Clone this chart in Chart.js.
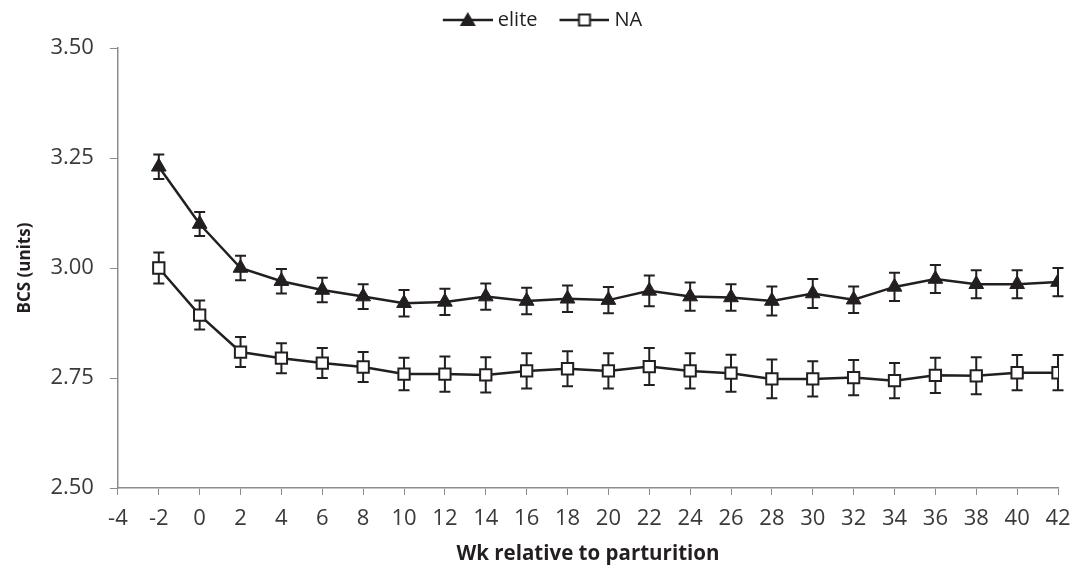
<!DOCTYPE html>
<html>
<head>
  <title>BCS by week</title>
  <script src="https://cdn.jsdelivr.net/npm/chart.js"></script>
  <style>
    body { margin: 0; background: #fff; }
    .chart-container { width: 1073px; height: 570px; }
  </style>
</head>
<body>
  <div class="chart-container">
    <canvas id="bcsChart"></canvas>
  </div>
  <script>
    // data
    const weeks = [-2, 0, 2, 4, 6, 8, 10, 12, 14, 16, 18, 20, 22, 24, 26, 28, 30, 32, 34, 36, 38, 40, 42];
    const eliteMean = [3.23, 3.10, 3.00, 2.97, 2.95, 2.935, 2.92, 2.923, 2.935, 2.925, 2.93, 2.927, 2.948, 2.935, 2.933, 2.925, 2.942, 2.928, 2.957, 2.975, 2.963, 2.963, 2.968];
    const eliteSE = [0.028, 0.027, 0.028, 0.028, 0.028, 0.028, 0.03, 0.03, 0.03, 0.03, 0.03, 0.03, 0.035, 0.032, 0.03, 0.033, 0.033, 0.03, 0.032, 0.032, 0.032, 0.032, 0.032];
    const naMean = [3.00, 2.893, 2.809, 2.795, 2.784, 2.775, 2.759, 2.759, 2.757, 2.766, 2.771, 2.766, 2.776, 2.766, 2.761, 2.748, 2.748, 2.751, 2.744, 2.756, 2.755, 2.762, 2.762];
    const naSE = [0.035, 0.033, 0.034, 0.034, 0.034, 0.034, 0.037, 0.04, 0.04, 0.04, 0.04, 0.04, 0.042, 0.04, 0.042, 0.044, 0.04, 0.04, 0.04, 0.04, 0.042, 0.04, 0.04];

    const ink = '#231f20';
    const tickFont = { family: 'Open Sans', size: 22 };

    function pts(means) {
      return weeks.map((w, i) => ({x: w, y: means[i]}));
    }

    // legend sample: line with marker in the middle (left part kept blank as spacing)
    function legendIcon(style) {
      const c = document.createElement('canvas');
      c.width = 67; c.height = 22;
      const g = c.getContext('2d');
      g.strokeStyle = ink; g.lineWidth = 2.5;
      g.beginPath(); g.moveTo(17, 11); g.lineTo(67, 11); g.stroke();
      const cx = 42;
      if (style === 'triangle') {
        g.fillStyle = ink;
        g.beginPath(); g.moveTo(cx, 3); g.lineTo(cx + 8, 17); g.lineTo(cx - 8, 17); g.closePath(); g.fill();
      } else {
        g.lineWidth = 2;
        g.fillStyle = '#fff';
        g.fillRect(cx - 5.5, 5.5, 11, 11);
        g.strokeRect(cx - 5.5, 5.5, 11, 11);
      }
      return c;
    }

    // error bars drawn through the chart scales
    const errorBars = {
      id: 'errorBars',
      beforeDatasetsDraw(chart) {
        const ctx = chart.ctx;
        const xs = chart.scales.x, ys = chart.scales.y;
        const sets = [[eliteMean, eliteSE], [naMean, naSE]];
        ctx.save();
        ctx.strokeStyle = ink;
        ctx.lineWidth = 2;
        sets.forEach(([m, se]) => {
          weeks.forEach((w, i) => {
            const px = xs.getPixelForValue(w);
            const top = ys.getPixelForValue(m[i] + se[i]);
            const bot = ys.getPixelForValue(m[i] - se[i]);
            ctx.beginPath();
            ctx.moveTo(px, top); ctx.lineTo(px, bot);
            ctx.moveTo(px - 5.5, top); ctx.lineTo(px + 5.5, top);
            ctx.moveTo(px - 5.5, bot); ctx.lineTo(px + 5.5, bot);
            ctx.stroke();
          });
        });
        ctx.restore();
      }
    };

    const icons = {elite: legendIcon('triangle'), NA: legendIcon('rect')};

    new Chart(document.getElementById('bcsChart'), {
      type: 'line',
      data: {
        datasets: [{
          label: 'elite',
          data: pts(eliteMean),
          borderColor: ink,
          backgroundColor: ink,
          borderWidth: 2.5,
          pointStyle: 'triangle',
          pointRadius: 8.5,
          pointBackgroundColor: ink,
          pointBorderColor: ink,
          pointBorderWidth: 1,
          tension: 0
        },
        {
          label: 'NA',
          data: pts(naMean),
          borderColor: ink,
          backgroundColor: '#fff',
          borderWidth: 2.5,
          pointStyle: 'rect',
          pointRadius: 8,
          pointBackgroundColor: '#fff',
          pointBorderColor: ink,
          pointBorderWidth: 2,
          tension: 0
        }]
      },
      options: {
        responsive: true,
        maintainAspectRatio: false,
        animation: false,
        layout: { padding: { left: 15, right: 15, top: 0, bottom: 0 } },
        plugins: {
          tooltip: { enabled: false },
          // empty spacer between legend and plot
          subtitle: { display: true, text: '', weight: 500, font: { size: 1 }, padding: { top: 0, bottom: 6.8 } },
          legend: {
            position: 'top',
            labels: {
              usePointStyle: true,
              pointStyleWidth: 57,
              color: ink,
              font: { family: 'Open Sans', size: 20 },
              padding: 10,
              generateLabels(chart) {
                return chart.data.datasets.map((ds, i) => ({
                  text: ds.label,
                  pointStyle: icons[ds.label],
                  fillStyle: ds.backgroundColor,
                  strokeStyle: ink,
                  lineWidth: 0,
                  fontColor: ink,
                  datasetIndex: i
                }));
              }
            }
          }
        },
        scales: {
          x: {
            type: 'linear',
            min: -4,
            max: 42,
            afterFit(s) { s.paddingRight = 0; },
            grid: { display: true, drawOnChartArea: false, drawTicks: true, tickLength: 7, color: '#8c8c8c' },
            border: { color: '#8c8c8c', width: 1.5 },
            ticks: { stepSize: 2, color: '#3a3a3a', font: tickFont, padding: 11, maxRotation: 0 },
            title: { display: true, text: 'Wk relative to parturition', color: ink,
              font: { family: 'Open Sans', size: 20.5, weight: 'bold' }, padding: { top: -2, bottom: 4 } }
          },
          y: {
            min: 2.5,
            max: 3.5,
            grid: { display: true, drawOnChartArea: false, drawTicks: true, tickLength: 8, color: '#8c8c8c' },
            border: { color: '#8c8c8c', width: 1.5 },
            ticks: { stepSize: 0.25, color: '#3a3a3a', font: tickFont, padding: 16,
              callback: v => v.toFixed(2) },
            title: { display: true, text: 'BCS (units)', color: ink,
              font: { family: 'Open Sans', size: 17, weight: 'bold' }, padding: { top: 0, bottom: -1 } }
          }
        }
      },
      plugins: [errorBars]
    });
  </script>
</body>
</html>
